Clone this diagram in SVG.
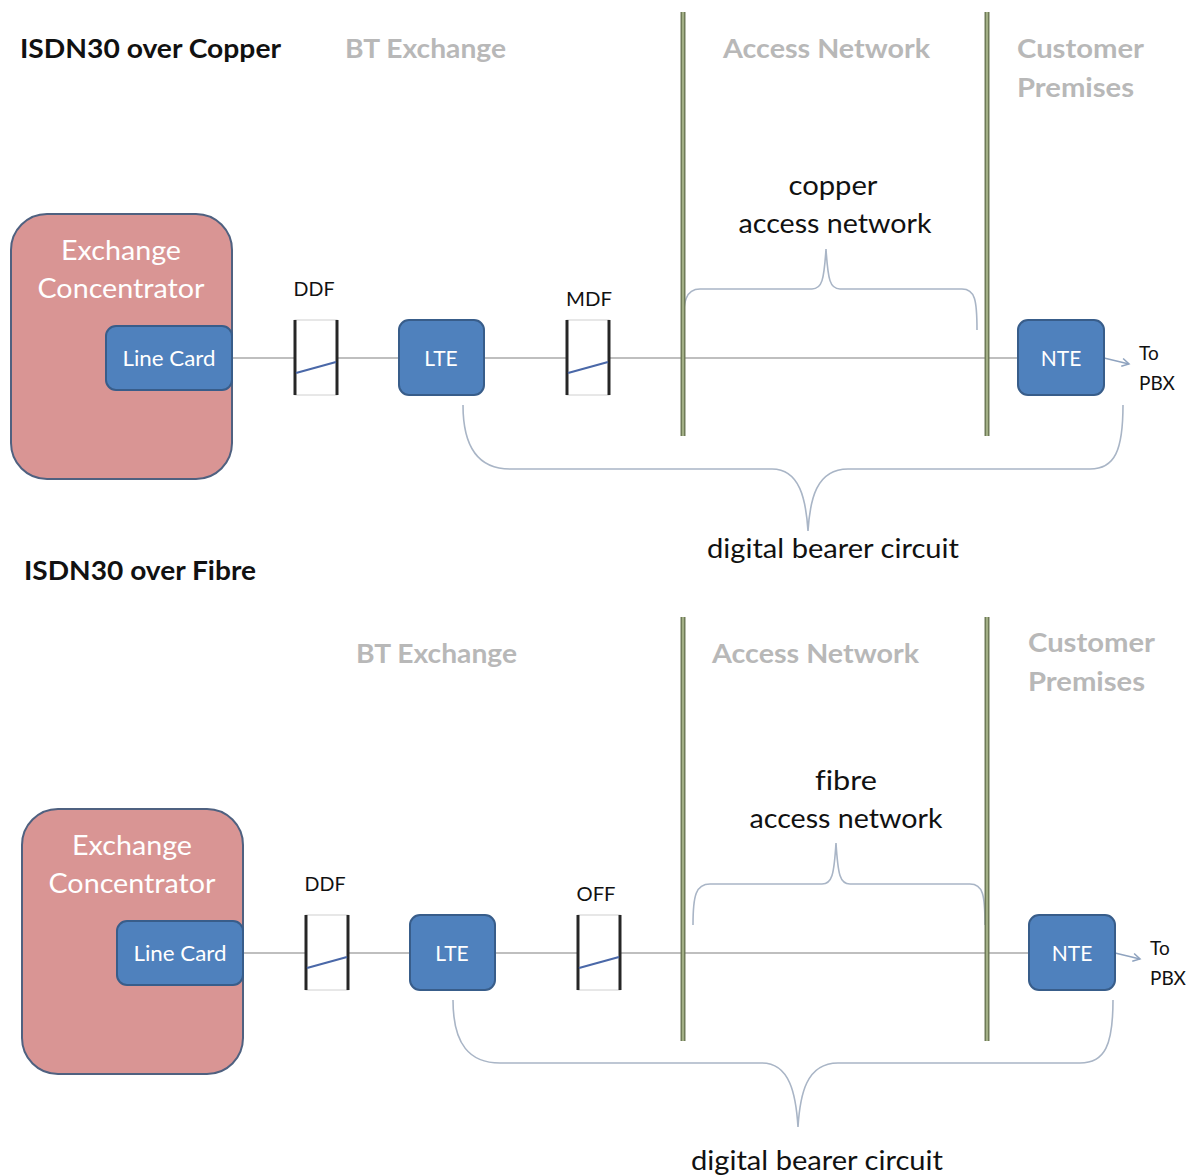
<svg xmlns="http://www.w3.org/2000/svg" width="1195" height="1176" viewBox="0 0 1195 1176">
<defs>
<style>
text{font-variant-ligatures:none}
.title{font-family:Lato,"Liberation Sans",sans-serif;font-weight:bold;font-size:26px;fill:#111}
.hdr{font-family:Lato,"Liberation Sans",sans-serif;font-weight:bold;font-size:26px;fill:#b8b8b8}
.big{font-family:Lato,"Liberation Sans",sans-serif;font-size:26px;fill:#111}
.conc{font-family:Lato,"Liberation Sans",sans-serif;font-size:27px;fill:#fff}
.card{font-family:Lato,"Liberation Sans",sans-serif;font-size:21px;fill:#fff}
.lbl{font-family:Lato,"Liberation Sans",sans-serif;font-size:19px;fill:#111}
.conc-box{fill:#d99594;stroke:#4f6180;stroke-width:2}
.blue{fill:#4f81bd;stroke:#385d8a;stroke-width:2}
.wire{stroke:#bfbfbf;stroke-width:2;fill:none}
.brace{stroke:#a9b5c6;stroke-width:1.6;fill:none}
.vo{stroke:#6f7b58;stroke-width:5}
.vi{stroke:#b3c095;stroke-width:1.5}
.frm{fill:#fff;stroke:#d0d0d0;stroke-width:1}
.post{stroke:#262626;stroke-width:3}
.diag{stroke:#4a68a8;stroke-width:2.2}
.arr{stroke:#8fa3bf;stroke-width:1.5;fill:none}
</style>
<marker id="ah" markerWidth="10" markerHeight="10" refX="8" refY="5" orient="auto" markerUnits="userSpaceOnUse">
<path d="M1,1 L8,5 L1,9" fill="none" stroke="#8fa3bf" stroke-width="1.5"/>
</marker>
</defs>
<rect width="1195" height="1176" fill="#fff"/>

<!-- ===== Top: copper ===== -->
<g id="titles-top">
<text class="title" x="20" y="58" textLength="261" lengthAdjust="spacingAndGlyphs">ISDN30 over Copper</text>
<text class="hdr" x="345" y="58" textLength="161" lengthAdjust="spacingAndGlyphs">BT Exchange</text>
<text class="hdr" x="723" y="58" textLength="207" lengthAdjust="spacingAndGlyphs">Access Network</text>
<text class="hdr" x="1017" y="58" textLength="127" lengthAdjust="spacingAndGlyphs">Customer</text>
<text class="hdr" x="1017" y="97" textLength="117" lengthAdjust="spacingAndGlyphs">Premises</text>
</g>

<g id="connectors-top">
<line class="wire" x1="232" y1="358" x2="1018" y2="358"/>
<line class="arr" x1="1104" y1="358" x2="1129" y2="364" marker-end="url(#ah)"/>
<path class="brace" d="M683,330 C683,300 686,289 700,289 L812,289 C822,289 824,280 826,249 C828,280 830,289 840,289 L962,289 C975,289 977,300 977,330"/>
<path class="brace" d="M463,405 C463,450 480,469 510,469 L772,469 C800,469 806,500 808,531 C810,500 816,469 848,469 L1090,469 C1115,469 1123,450 1123,405"/>
</g>

<g id="boundary-top">
<line class="vo" x1="683" y1="12" x2="683" y2="436"/><line class="vi" x1="683" y1="12" x2="683" y2="436"/>
<line class="vo" x1="987" y1="12" x2="987" y2="436"/><line class="vi" x1="987" y1="12" x2="987" y2="436"/>
</g>

<g id="exchange-concentrator-top">
<rect class="conc-box" x="11" y="214" width="221" height="265" rx="36"/>
<text class="conc" x="121" y="260" text-anchor="middle" textLength="120" lengthAdjust="spacingAndGlyphs">Exchange</text>
<text class="conc" x="121" y="298" text-anchor="middle" textLength="167" lengthAdjust="spacingAndGlyphs">Concentrator</text>
</g>
<g id="line-card-top">
<rect class="blue" x="106" y="326" width="126" height="64" rx="10"/>
<text class="card" x="169" y="366" text-anchor="middle" textLength="93" lengthAdjust="spacingAndGlyphs">Line Card</text>
</g>
<g id="ddf-top">
<text class="lbl" x="314" y="296" text-anchor="middle" textLength="41" lengthAdjust="spacingAndGlyphs">DDF</text>
<rect class="frm" x="295" y="320" width="42" height="75"/>
<line class="post" x1="295" y1="320" x2="295" y2="395"/><line class="post" x1="337" y1="320" x2="337" y2="395"/>
<line class="diag" x1="296" y1="373" x2="336" y2="362"/>
</g>
<g id="lte-top">
<rect class="blue" x="399" y="320" width="85" height="75" rx="10"/>
<text class="card" x="441" y="366" text-anchor="middle">LTE</text>
</g>
<g id="mdf-top">
<text class="lbl" x="589" y="306" text-anchor="middle" textLength="46" lengthAdjust="spacingAndGlyphs">MDF</text>
<rect class="frm" x="567" y="320" width="42" height="75"/>
<line class="post" x1="567" y1="320" x2="567" y2="395"/><line class="post" x1="609" y1="320" x2="609" y2="395"/>
<line class="diag" x1="568" y1="373" x2="608" y2="362"/>
</g>
<g id="nte-top">
<rect class="blue" x="1018" y="320" width="86" height="75" rx="10"/>
<text class="card" x="1061" y="366" text-anchor="middle">NTE</text>
</g>
<g id="pbx-top">
<text class="lbl" x="1139" y="360">To</text>
<text class="lbl" x="1139" y="390">PBX</text>
</g>
<g id="labels-top">
<text class="big" x="833" y="195" text-anchor="middle" textLength="89" lengthAdjust="spacingAndGlyphs">copper</text>
<text class="big" x="835" y="233" text-anchor="middle" textLength="193" lengthAdjust="spacingAndGlyphs">access network</text>
<text class="big" x="833" y="558" text-anchor="middle" textLength="252" lengthAdjust="spacingAndGlyphs">digital bearer circuit</text>
</g>

<!-- ===== Bottom: fibre ===== -->
<g id="titles-bottom">
<text class="title" x="24" y="580" textLength="232" lengthAdjust="spacingAndGlyphs">ISDN30 over Fibre</text>
<text class="hdr" x="356" y="663" textLength="161" lengthAdjust="spacingAndGlyphs">BT Exchange</text>
<text class="hdr" x="712" y="663" textLength="207" lengthAdjust="spacingAndGlyphs">Access Network</text>
<text class="hdr" x="1028" y="652" textLength="127" lengthAdjust="spacingAndGlyphs">Customer</text>
<text class="hdr" x="1028" y="691" textLength="117" lengthAdjust="spacingAndGlyphs">Premises</text>
</g>

<g id="connectors-bottom">
<line class="wire" x1="243" y1="953" x2="1029" y2="953"/>
<line class="arr" x1="1115" y1="953" x2="1140" y2="959" marker-end="url(#ah)"/>
<path class="brace" d="M693,925 C693,895 696,884 710,884 L822,884 C832,884 834,875 836,843 C838,875 840,884 850,884 L970,884 C983,884 985,895 985,925"/>
<path class="brace" d="M453,1000 C453,1045 470,1063 500,1063 L762,1063 C790,1063 796,1095 798,1127 C800,1095 806,1063 838,1063 L1080,1063 C1105,1063 1113,1045 1113,1000"/>
</g>

<g id="boundary-bottom">
<line class="vo" x1="683" y1="617" x2="683" y2="1041"/><line class="vi" x1="683" y1="617" x2="683" y2="1041"/>
<line class="vo" x1="987" y1="617" x2="987" y2="1041"/><line class="vi" x1="987" y1="617" x2="987" y2="1041"/>
</g>

<g id="exchange-concentrator-bottom">
<rect class="conc-box" x="22" y="809" width="221" height="265" rx="36"/>
<text class="conc" x="132" y="855" text-anchor="middle" textLength="120" lengthAdjust="spacingAndGlyphs">Exchange</text>
<text class="conc" x="132" y="893" text-anchor="middle" textLength="167" lengthAdjust="spacingAndGlyphs">Concentrator</text>
</g>
<g id="line-card-bottom">
<rect class="blue" x="117" y="921" width="126" height="64" rx="10"/>
<text class="card" x="180" y="961" text-anchor="middle" textLength="93" lengthAdjust="spacingAndGlyphs">Line Card</text>
</g>
<g id="ddf-bottom">
<text class="lbl" x="325" y="891" text-anchor="middle" textLength="41" lengthAdjust="spacingAndGlyphs">DDF</text>
<rect class="frm" x="306" y="915" width="42" height="75"/>
<line class="post" x1="306" y1="915" x2="306" y2="990"/><line class="post" x1="348" y1="915" x2="348" y2="990"/>
<line class="diag" x1="307" y1="968" x2="347" y2="957"/>
</g>
<g id="lte-bottom">
<rect class="blue" x="410" y="915" width="85" height="75" rx="10"/>
<text class="card" x="452" y="961" text-anchor="middle">LTE</text>
</g>
<g id="off-bottom">
<text class="lbl" x="596" y="901" text-anchor="middle" textLength="39" lengthAdjust="spacingAndGlyphs">OFF</text>
<rect class="frm" x="578" y="915" width="42" height="75"/>
<line class="post" x1="578" y1="915" x2="578" y2="990"/><line class="post" x1="620" y1="915" x2="620" y2="990"/>
<line class="diag" x1="579" y1="968" x2="619" y2="957"/>
</g>
<g id="nte-bottom">
<rect class="blue" x="1029" y="915" width="86" height="75" rx="10"/>
<text class="card" x="1072" y="961" text-anchor="middle">NTE</text>
</g>
<g id="pbx-bottom">
<text class="lbl" x="1150" y="955">To</text>
<text class="lbl" x="1150" y="985">PBX</text>
</g>
<g id="labels-bottom">
<text class="big" x="846" y="790" text-anchor="middle" textLength="62" lengthAdjust="spacingAndGlyphs">fibre</text>
<text class="big" x="846" y="828" text-anchor="middle" textLength="193" lengthAdjust="spacingAndGlyphs">access network</text>
<text class="big" x="817" y="1170" text-anchor="middle" textLength="252" lengthAdjust="spacingAndGlyphs">digital bearer circuit</text>
</g>
</svg>
